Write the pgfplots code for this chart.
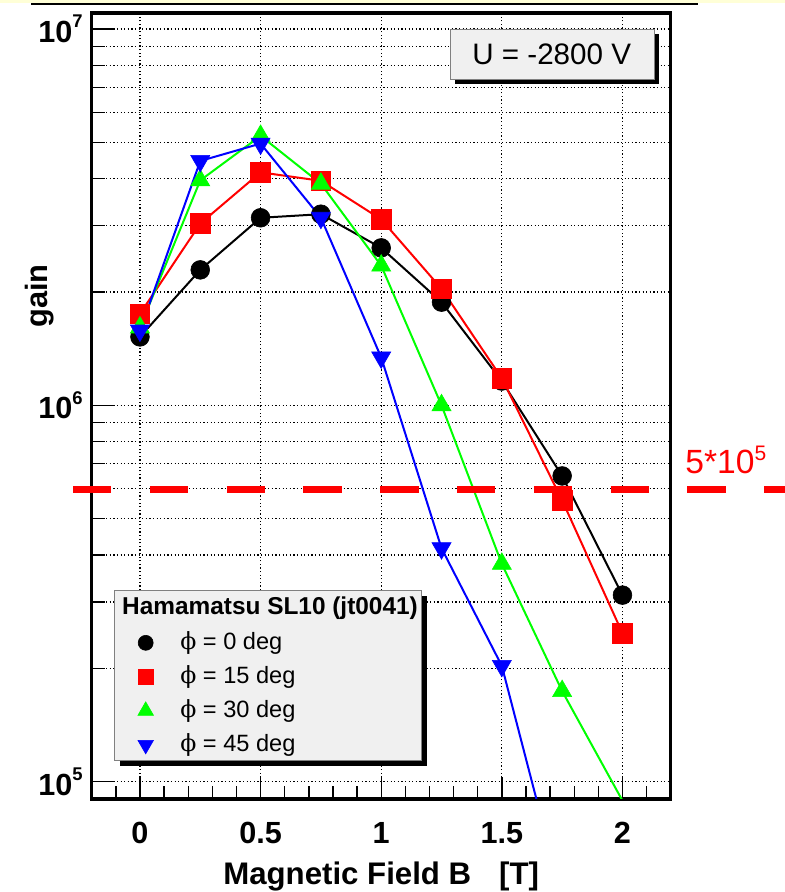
\documentclass[border=0pt]{standalone}
\usepackage{fontspec}
\setmainfont{Liberation Sans}
\newfontfamily\phifont{DejaVu Serif}
\usepackage{pgfplots}
\pgfplotsset{compat=1.18}
\definecolor{rootred}{rgb}{1,0,0}
\definecolor{rootgreen}{rgb}{0,1,0}
\definecolor{rootblue}{rgb}{0,0,1}
\definecolor{boxgray}{gray}{0.94}
\definecolor{topyellow}{RGB}{255,255,215}
\newcommand\tenpow[1]{10\raisebox{7.3pt}{\fontsize{9.2}{10}\selectfont\bfseries #1}}

\begin{document}
\begin{tikzpicture}
\path[use as bounding box] (0,0) rectangle (392.5pt,-446pt);
\fill[topyellow] (0,0) rectangle (392.5pt,-1.7pt);
\draw[line width=1.1pt] (15.5pt,-2.2pt) -- (349pt,-2.2pt);
\begin{axis}[
 at={(45.85pt,-399.5pt)}, anchor=south west,
 scale only axis, width=289.5pt, height=393pt,
 xmin=-0.2, xmax=2.2,
 ymode=log, ymin=8.99e4, ymax=1.103e7,
 xtick={0,0.5,1,1.5,2},
 xticklabels={0,0.5,1,1.5,2},
 minor xtick={-0.1,0.1,0.2,0.3,0.4,0.6,0.7,0.8,0.9,1.1,1.2,1.3,1.4,1.6,1.7,1.8,1.9,2.1},
 ytick={1e5,1e6,1e7},
 yticklabels={\tenpow{5},\tenpow{6},\tenpow{7}},
 minor ytick={2e5,3e5,4e5,5e5,6e5,7e5,8e5,9e5,2e6,3e6,4e6,5e6,6e6,7e6,8e6,9e6},
 xmajorgrids, ymajorgrids, yminorgrids,
 major grid style={black, line width=0.6pt, dash pattern=on 0.6pt off 1.2pt},
 minor grid style={black, line width=0.6pt, dash pattern=on 0.6pt off 1.2pt},
 tick align=inside, xtick pos=bottom, ytick pos=left,
 major tick length=11pt, minor tick length=6.5pt,
 tick style={black, line width=0.7pt},
 axis line style={line width=1.6pt},
 ticklabel style={font=\fontsize{15.3}{17}\selectfont\bfseries},
 xticklabel style={anchor=north, inner sep=0pt, yshift=-11.3pt},
 yticklabel style={anchor=east, inner sep=0pt, xshift=-4.3pt},
 xlabel={Magnetic Field B\hspace{14pt}[T]},
 xlabel style={at={(axis description cs:0.5,-0.1094)}, anchor=base, font=\fontsize{15.6}{17}\selectfont\bfseries},
 ylabel={gain},
 ylabel style={at={(axis description cs:-0.0893,0.640)}, anchor=center, font=\fontsize{15.4}{17}\selectfont\bfseries},
 legend style={at={(axis description cs:0.0639,0.2236)}, anchor=north west, draw=none, fill=none,
   inner sep=0pt, outer sep=0pt, row sep=2pt, column sep=8.8pt,
   nodes={inner sep=0pt, text depth=0.15em}, cells={anchor=west},
   font=\fontsize{11.8}{14}\selectfont},
 legend image code/.code={\path[draw=none, fill=none] (0pt,-5.5pt) rectangle (17pt,9.5pt); \draw[#1] plot coordinates {(8.5pt,-0.3pt)};},
]
\addplot[black, line width=1pt, mark=*, mark size=4.7pt, mark options={solid, line width=0.3pt}, forget plot] coordinates {
 (0,1.52e6) (0.25,2.29e6) (0.5,3.15e6) (0.75,3.22e6) (1,2.62e6) (1.25,1.88e6) (1.5,1.16e6) (1.75,6.49e5) (2,3.13e5)};
\addplot[rootred, line width=1pt, mark=square*, mark size=4.9pt, mark options={solid, line width=0.3pt}, forget plot] coordinates {
 (0,1.75e6) (0.25,3.04e6) (0.5,4.16e6) (0.75,3.95e6) (1,3.12e6) (1.25,2.04e6) (1.5,1.18e6) (1.75,5.59e5) (2,2.48e5)};
\addplot[rootgreen, line width=1pt, mark=triangle*, mark size=5.5pt, mark options={solid, line width=0.3pt}, forget plot] coordinates {
 (0,1.61e6) (0.25,3.96e6) (0.5,5.2e6) (0.75,3.88e6) (1,2.35e6) (1.25,1.0e6) (1.5,3.79e5) (1.75,1.74e5) (2,8.9e4)};
\addplot[rootblue, line width=1pt, mark=triangle*, mark size=5.5pt, mark options={solid, line width=0.3pt, rotate=180}, forget plot] coordinates {
 (0,1.58e6) (0.25,4.46e6) (0.5,4.96e6) (0.75,3.15e6) (1,1.34e6) (1.25,4.17e5) (1.5,2.03e5) (1.75,4.9e4)};

% legend box with shadow
\fill[black] (axis description cs:0.04888,0.2586) rectangle (axis description cs:0.5786,0.04198);
\filldraw[fill=boxgray, draw=gray, line width=0.5pt] (axis description cs:0.04024,0.2650) rectangle (axis description cs:0.5699,0.04835);
\node[anchor=base, inner sep=0pt, font=\fontsize{12.2}{14}\selectfont\bfseries] at (axis description cs:0.3080,0.2341) {Hamamatsu SL10 (jt0041)};
% voltage box with shadow
\fill[black] (axis description cs:0.6278,0.9736) rectangle (axis description cs:0.9790,0.9091);
\filldraw[fill=boxgray, draw=gray, line width=0.5pt] (axis description cs:0.6200,0.9793) rectangle (axis description cs:0.9712,0.9148);
\node[anchor=base, inner sep=0pt, font=\fontsize{14.8}{17}\selectfont] at (axis description cs:0.7945,0.9338) {U = -2800 V};

\addlegendimage{black, mark=*, mark size=3.75pt, mark options={line width=0.3pt}}
\addlegendentry{{\phifont ϕ} = 0 deg}
\addlegendimage{rootred, mark=square*, mark size=3.75pt, mark options={line width=0.3pt}}
\addlegendentry{{\phifont ϕ} = 15 deg}
\addlegendimage{rootgreen, mark=triangle*, mark size=4.5pt, mark options={line width=0.3pt}}
\addlegendentry{{\phifont ϕ} = 30 deg}
\addlegendimage{rootblue, mark=triangle*, mark size=4.5pt, mark options={line width=0.3pt, rotate=180}}
\addlegendentry{{\phifont ϕ} = 45 deg}
\end{axis}
\draw[rootred, line width=3.5pt, dash pattern=on 19.2pt off 19.2pt] (36.5pt,-244.5pt) -- (392.5pt,-244.5pt);
\node[anchor=base west, text=rootred, inner sep=0pt, font=\fontsize{16.8}{18}\selectfont] at (342.5pt,-236.5pt) {5*10\raisebox{6.5pt}{\fontsize{10.5}{11}\selectfont 5}};
\end{tikzpicture}
\end{document}
